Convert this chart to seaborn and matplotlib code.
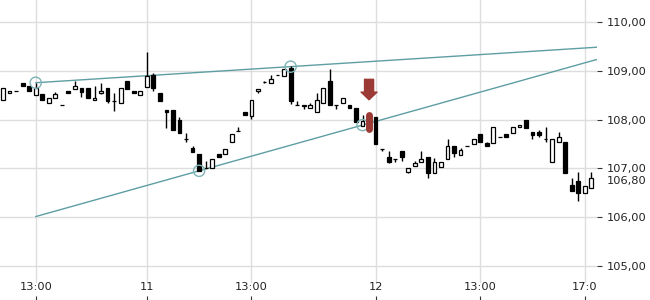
import numpy as np
import pandas as pd
import matplotlib
matplotlib.use("Agg")
import matplotlib.pyplot as plt
import seaborn as sns

# ---------------- data (15-minute candles) ----------------
opens = [108.41, 108.54, 108.59, 108.76, 108.69, 108.50, 108.52, 108.34, 108.44, 108.30,
         108.59, 108.64, 108.65, 108.66, 108.40, 108.54, 108.65, 108.39, 108.34, 108.80,
         108.59, 108.50, 108.68, 108.92, 108.54, 108.20, 108.20, 108.00, 107.61, 107.41,
         107.30, 107.00, 107.00, 107.30, 107.29, 107.54, 107.76, 108.16, 108.08, 108.59,
         108.78, 108.75, 108.91, 108.89, 109.06, 108.30, 108.29, 108.24, 108.15, 108.34,
         108.80, 108.30, 108.34, 108.30, 108.24, 107.88, 107.88, 108.06, 107.40, 107.24,
         107.19, 107.35, 106.93, 107.04, 107.14, 107.24, 106.91, 107.02, 107.19, 107.45,
         107.28, 107.46, 107.50, 107.71, 107.52, 107.53, 107.64, 107.71, 107.73, 107.85,
         108.00, 107.75, 107.75, 107.60, 107.14, 107.54, 107.54, 106.66, 106.75, 106.49,
         106.59]
closes = [108.65, 108.59, 108.59, 108.69, 108.58, 108.65, 108.40, 108.45, 108.52, 108.30,
          108.54, 108.70, 108.57, 108.44, 108.45, 108.59, 108.39, 108.39, 108.65, 108.64,
          108.54, 108.59, 108.90, 108.65, 108.39, 108.15, 107.79, 107.73, 107.61, 107.34,
          106.95, 107.00, 107.19, 107.24, 107.40, 107.70, 107.76, 108.09, 108.40, 108.64,
          108.78, 108.84, 108.91, 109.04, 108.39, 108.30, 108.29, 108.30, 108.41, 108.65,
          108.30, 108.30, 108.44, 108.24, 107.96, 107.98, 107.88, 107.50, 107.40, 107.14,
          107.19, 107.24, 107.00, 107.12, 107.19, 106.90, 107.14, 107.14, 107.45, 107.32,
          107.38, 107.46, 107.60, 107.54, 107.45, 107.86, 107.64, 107.64, 107.85, 107.89,
          107.83, 107.69, 107.69, 107.60, 107.60, 107.64, 106.90, 106.54, 106.49, 106.64,
          106.80]
highs = [108.65, 108.59, 108.59, 108.76, 108.69, 108.75, 108.52, 108.45, 108.56, 108.30,
         108.59, 108.80, 108.65, 108.66, 108.69, 108.76, 108.65, 108.54, 108.65, 108.80,
         108.59, 108.59, 109.40, 108.96, 108.54, 108.20, 108.20, 108.06, 107.72, 107.46,
         107.30, 107.16, 107.19, 107.30, 107.40, 107.70, 107.85, 108.16, 108.40, 108.64,
         108.80, 108.91, 108.91, 109.04, 109.11, 108.39, 108.29, 108.35, 108.54, 108.65,
         109.04, 108.30, 108.44, 108.30, 108.24, 108.10, 107.88, 108.06, 107.40, 107.35,
         107.19, 107.35, 107.00, 107.16, 107.36, 107.24, 107.22, 107.14, 107.60, 107.45,
         107.41, 107.46, 107.60, 107.71, 107.55, 107.86, 107.64, 107.71, 107.85, 107.89,
         108.00, 107.75, 107.79, 107.86, 107.60, 107.74, 107.54, 106.80, 106.93, 106.64,
         106.93]
lows = [108.41, 108.54, 108.59, 108.69, 108.58, 108.50, 108.40, 108.34, 108.44, 108.30,
        108.54, 108.64, 108.47, 108.44, 108.40, 108.52, 108.35, 108.17, 108.34, 108.64,
        108.54, 108.50, 108.68, 108.60, 108.39, 107.83, 107.79, 107.73, 107.55, 107.34,
        106.95, 107.00, 107.00, 107.24, 107.29, 107.54, 107.76, 108.09, 108.01, 108.55,
        108.76, 108.75, 108.91, 108.89, 108.32, 108.30, 108.22, 108.24, 108.15, 108.34,
        108.30, 108.22, 108.34, 108.24, 107.96, 107.88, 107.88, 107.50, 107.36, 107.11,
        107.14, 107.16, 106.91, 107.04, 107.14, 106.81, 106.91, 107.02, 107.19, 107.24,
        107.28, 107.46, 107.50, 107.54, 107.45, 107.53, 107.64, 107.64, 107.73, 107.85,
        107.83, 107.61, 107.64, 107.55, 107.14, 107.54, 106.90, 106.54, 106.32, 106.49,
        106.59]

tick_positions = [5, 22, 38, 57, 73, 89]
tick_labels = ["13:00", "11", "13:00", "12", "13:00", "17:0"]
price_ticks = [105, 106, 107, 108, 109, 110]
last_price = 106.80

# trend lines (index, price) anchor points
upper_line_x = [5, 90.9]
upper_line_y = [108.76, 109.49]
lower_line_x = [5, 90.9]
lower_line_y = [106.01, 109.24]
touch_x = [5, 44, 30, 55]
touch_y = [108.76, 109.09, 106.95, 107.89]

signal_index = 56
signal_arrow = [108.83, 108.41]     # top, tip
signal_bar = [108.095, 107.81]

# ---------------- figure ----------------
sns.set_theme(style="white")
plt.rcParams["font.family"] = ["DejaVu Sans"]

fig = plt.figure(figsize=(6.5, 3.0), dpi=100)
ax = fig.add_axes([0, 17 / 300, 597 / 650, 283 / 300])

df = pd.DataFrame({"o": opens, "c": closes, "h": highs, "l": lows})
df["i"] = np.arange(len(df))
df["bottom"] = df[["o", "c"]].min(axis=1)
df["height"] = (df["c"] - df["o"]).abs().clip(lower=0.004)
df["face"] = np.where(df["c"] >= df["o"], "white", "black")

ax.vlines(df["i"], df["l"], df["h"], color="black", lw=1.0, zorder=3)
ax.bar(df["i"], df["height"], bottom=df["bottom"], width=0.58,
       color=df["face"], edgecolor="black", linewidth=0.9, zorder=4)

teal = "#5e9ea3"
sns.lineplot(x=upper_line_x, y=upper_line_y, ax=ax, color=teal, lw=1.0, zorder=2)
sns.lineplot(x=lower_line_x, y=lower_line_y, ax=ax, color=teal, lw=1.0, zorder=2)
sns.scatterplot(x=touch_x, y=touch_y, ax=ax, s=65, facecolor="none",
                edgecolor="#7fb3b6", linewidth=1.0, zorder=5)

red = "#9c3a35"
ax.annotate("", xy=(signal_index, signal_arrow[1]), xytext=(signal_index, signal_arrow[0]),
            arrowprops=dict(arrowstyle="simple,head_length=0.55,head_width=1.15,tail_width=0.65",
                            color=red, mutation_scale=10, shrinkA=0, shrinkB=0), zorder=6)
ax.plot([signal_index, signal_index], signal_bar, color=red, lw=5.0,
        solid_capstyle="round", zorder=6)

ax.set_xlim(-0.46, 90.87)
ax.set_ylim(104.645, 110.46)

ax.set_xticks(tick_positions)
ax.set_xticklabels(tick_labels)
ax.set_yticks(price_ticks)
ax.set_yticklabels([f"{v:.2f}".replace(".", ",") for v in price_ticks])
ax.yaxis.tick_right()
ax.tick_params(axis="y", length=3.6, width=0.8, color="#333333", pad=3.6,
               labelsize=8.2, labelcolor="#222222")
ax.tick_params(axis="x", length=0, pad=-0.5, labelsize=8.2, labelcolor="#222222")
ax.grid(True, color="#dddddd", lw=1.0)
ax.set_axisbelow(True)
for s in ax.spines.values():
    s.set_visible(False)

sec = ax.secondary_xaxis(-13 / 283)
sec.set_xticks(tick_positions)
sec.set_xticklabels([])
sec.tick_params(length=3.5, width=0.8, color="#333333")
for s in sec.spines.values():
    s.set_visible(False)

ax.annotate(f"{last_price:.2f}".replace(".", ","), xy=(1, last_price),
            xycoords=("axes fraction", "data"), xytext=(7.2, -2.2),
            textcoords="offset points", va="center", ha="left",
            fontsize=8.2, color="#222222", annotation_clip=False)

fig.savefig("out.png", dpi=100)
